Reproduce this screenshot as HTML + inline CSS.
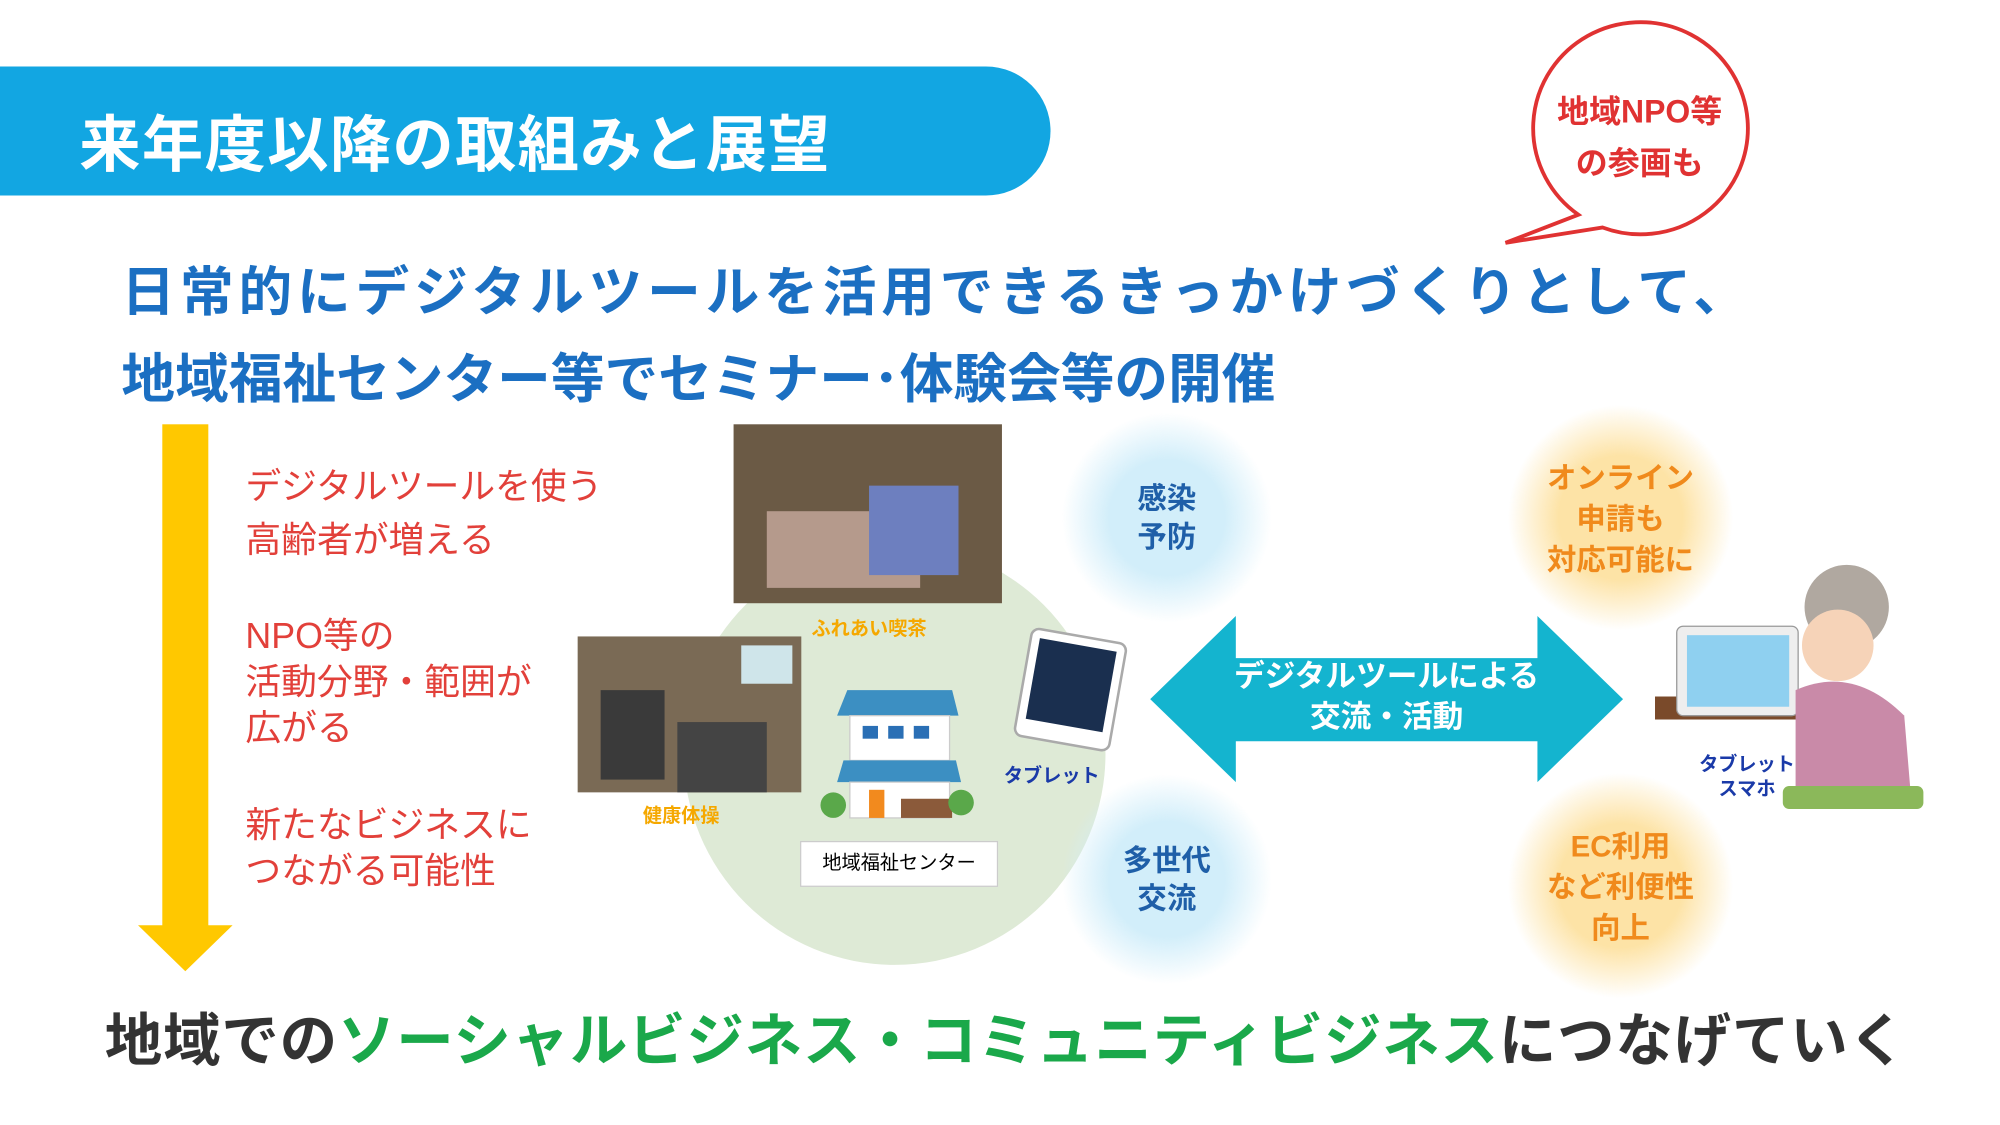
<!DOCTYPE html>
<html><head><meta charset="utf-8">
<style>
html,body{margin:0;padding:0;background:#fff;width:2000px;height:1125px;overflow:hidden}
#s{position:absolute;left:0;top:0;width:1555px;height:875px;transform:scale(1.278);transform-origin:0 0;font-family:"Liberation Sans","Noto Sans CJK JP",sans-serif}
.a{position:absolute;white-space:nowrap}
.r{color:#e2403a;font-size:28px;line-height:36px}
.c{text-align:center;font-weight:bold}
</style></head><body><div id="s">
<div class="a" style="left:0;top:52px;width:822px;height:101px;background:#12a6e2;border-radius:0 52px 52px 0"></div>
<div class="a" style="left:62px;top:74px;font-size:48px;font-weight:bold;color:#fff;letter-spacing:1px">来年度以降の取組みと展望</div>

<svg class="a" style="left:0;top:0" width="1555" height="875">
<path d="M1254,178 A84,83 0 1 0 1235,168 L1178,190 Z" fill="#fff" stroke="#e03232" stroke-width="3"/>
<circle cx="700" cy="590" r="165" fill="#deead6"/>
<defs>
<radialGradient id="b"><stop offset="0.55" stop-color="#d2eefa"/><stop offset="1" stop-color="#d2eefa" stop-opacity="0"/></radialGradient>
<radialGradient id="o"><stop offset="0.55" stop-color="#fde3a6"/><stop offset="1" stop-color="#fde3a6" stop-opacity="0"/></radialGradient>
</defs>
<circle cx="913" cy="405" r="82" fill="url(#b)"/>
<circle cx="913" cy="688" r="82" fill="url(#b)"/>
<circle cx="1268" cy="405" r="88" fill="url(#o)"/>
<circle cx="1268" cy="693" r="88" fill="url(#o)"/>
<rect x="127" y="332" width="36" height="395" fill="#ffc800"/>
<polygon points="108,724 182,724 145,760" fill="#ffc800"/>
<polygon points="900,547 967,482 967,515 1203,515 1203,482 1270,547 1203,612 1203,580 967,580 967,612" fill="#14b4cf"/>
<rect x="574" y="332" width="210" height="140" fill="#6b5a45"/>
<rect x="600" y="400" width="120" height="60" fill="#b59a8c"/>
<rect x="680" y="380" width="70" height="70" fill="#6d7fbf"/>
<rect x="452" y="498" width="175" height="122" fill="#7a6a55"/>
<rect x="580" y="505" width="40" height="30" fill="#cfe5ea"/>
<rect x="470" y="540" width="50" height="70" fill="#3a3a3a"/>
<rect x="530" y="565" width="70" height="55" fill="#444"/>
<polygon points="663,540 745,540 750,560 655,560" fill="#3c8fc2"/>
<rect x="665" y="560" width="78" height="35" fill="#fff" stroke="#ccc"/>
<rect x="675" y="568" width="12" height="10" fill="#2a6fb5"/><rect x="695" y="568" width="12" height="10" fill="#2a6fb5"/><rect x="715" y="568" width="12" height="10" fill="#2a6fb5"/>
<polygon points="660,595 748,595 752,612 655,612" fill="#3c8fc2"/>
<rect x="665" y="612" width="78" height="28" fill="#fff" stroke="#ccc"/>
<rect x="680" y="618" width="12" height="22" fill="#f28a1e"/>
<rect x="705" y="625" width="40" height="15" fill="#8b5a3a"/>
<circle cx="652" cy="630" r="10" fill="#5aa84a"/><circle cx="752" cy="628" r="10" fill="#5aa84a"/>
<g transform="rotate(10 837 540)"><rect x="800" y="497" width="75" height="85" rx="6" fill="#fff" stroke="#aaa" stroke-width="2"/><rect x="807" y="504" width="61" height="64" fill="#1a2f4f"/></g>
<rect x="1295" y="545" width="115" height="18" fill="#7a4a2a"/>
<rect x="1312" y="490" width="95" height="70" rx="5" fill="#eee" stroke="#999"/>
<rect x="1320" y="497" width="80" height="56" fill="#8fd0f0"/>
<circle cx="1445" cy="475" r="33" fill="#b0a8a0"/>
<circle cx="1438" cy="505" r="28" fill="#f6d3b8"/>
<path d="M1405,540 Q1450,520 1490,560 L1495,620 L1405,620 Z" fill="#c98aa8"/>
<rect x="1395" y="615" width="110" height="18" rx="5" fill="#8bb85a"/>
</svg>

<div class="a" style="left:1193px;top:68px;width:180px;color:#e03232;font-size:25px;font-weight:bold;line-height:40px;text-align:center">地域NPO等<br>の参画も</div>

<div class="a" style="left:95px;top:195px;font-size:42px;font-weight:bold;color:#1b6fc2;letter-spacing:3.8px">日常的にデジタルツールを活用できるきっかけづくりとして、</div>
<div class="a" style="left:95px;top:263px;font-size:42px;font-weight:bold;color:#1b6fc2;letter-spacing:0px">地域福祉センター等でセミナー･体験会等の開催</div>

<div class="a r" style="left:192px;top:360px;line-height:42px">デジタルツールを使う<br>高齢者が増える</div>
<div class="a r" style="left:192px;top:480px">NPO等の<br>活動分野・範囲が<br>広がる</div>
<div class="a r" style="left:192px;top:628px">新たなビジネスに<br>つながる可能性</div>

<div class="a c" style="left:620px;top:481px;width:120px;font-size:15px;color:#f5a800">ふれあい喫茶</div>
<div class="a c" style="left:473px;top:627px;width:120px;font-size:15px;color:#f5a800">健康体操</div>
<div class="a" style="left:626px;top:658px;width:153px;height:34px;background:#fff;border:1px solid #ccc;font-size:15px;line-height:34px;text-align:center">地域福祉センター</div>
<div class="a c" style="left:773px;top:596px;width:100px;font-size:15px;color:#1a3aa8">タブレット</div>
<div class="a c" style="left:1317px;top:589px;width:100px;font-size:15px;color:#1a3aa8;line-height:19px">タブレット<br>スマホ</div>

<div class="a c" style="left:853px;top:375px;width:120px;font-size:23px;color:#1f5fa8;line-height:30px">感染<br>予防</div>
<div class="a c" style="left:853px;top:658px;width:120px;font-size:23px;color:#1f5fa8;line-height:30px">多世代<br>交流</div>
<div class="a c" style="left:1188px;top:358px;width:160px;font-size:23px;color:#f08a1c;line-height:32px">オンライン<br>申請も<br>対応可能に</div>
<div class="a c" style="left:1188px;top:646px;width:160px;font-size:23px;color:#f08a1c;line-height:32px">EC利用<br>など利便性<br>向上</div>
<div class="a c" style="left:935px;top:514px;width:300px;font-size:24px;color:#fff;line-height:32px">デジタルツールによる<br>交流・活動</div>

<div class="a" style="left:82px;top:778px;font-size:45px;font-weight:bold;color:#333;letter-spacing:0.6px">地域での<span style="color:#1aa84a">ソーシャルビジネス・コミュニティビジネス</span>につなげていく</div>
</div></body></html>
